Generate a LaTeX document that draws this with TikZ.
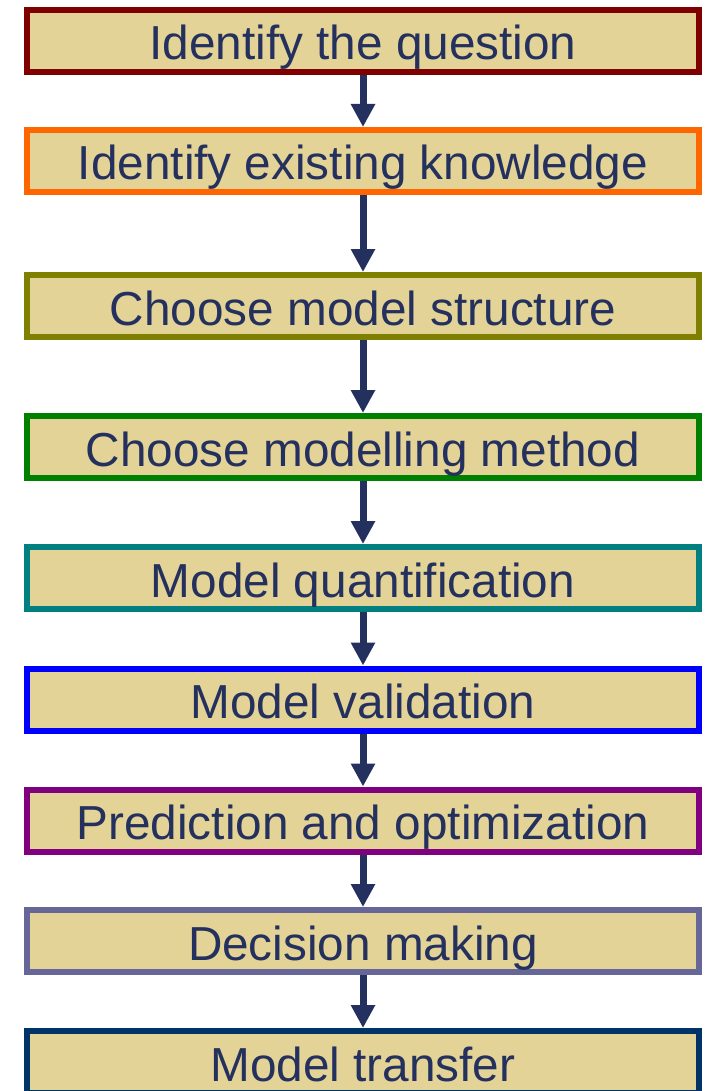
\documentclass[tikz,border=0pt]{standalone}
\usepackage{fontspec}
\setmainfont{Liberation Sans}
\usetikzlibrary{arrows.meta}
\definecolor{boxfill}{RGB}{227,211,150}
\definecolor{navy}{RGB}{36,48,94}
\definecolor{cA}{RGB}{128,0,0}
\definecolor{cB}{RGB}{255,102,0}
\definecolor{cC}{RGB}{128,128,0}
\definecolor{cD}{RGB}{0,128,0}
\definecolor{cE}{RGB}{0,128,128}
\definecolor{cF}{RGB}{0,0,255}
\definecolor{cG}{RGB}{128,0,128}
\definecolor{cH}{RGB}{102,102,153}
\definecolor{cI}{RGB}{0,51,102}
\begin{document}
\begin{tikzpicture}[x=1pt,y=-1pt,
  stepbox/.style={draw=#1, line width=6pt, fill=boxfill, minimum width=672pt,
    minimum height=62pt, inner sep=0pt, text=navy,
    font=\fontsize{47.7}{57}\selectfont, text height=38pt, text depth=0pt},
  flow/.style={draw=navy, line width=7pt,
    -{Triangle[length=23pt 0 0,width=23pt 0 0,fill=navy]}}]
\useasboundingbox (0,0) rectangle (705,1091);
\clip (0,0) rectangle (705,1091);
\node[stepbox=cA] (b1) at (363,41) {Identify the question};
\node[stepbox=cB] (b2) at (363,161) {Identify existing knowledge};
\node[stepbox=cC] (b3) at (363,306) {Choose model structure};
\node[stepbox=cD] (b4) at (363,447) {Choose modelling method};
\node[stepbox=cE] (b5) at (363,578) {Model quantification};
\node[stepbox=cF] (b6) at (363,699.5) {Model validation};
\node[stepbox=cG] (b7) at (363,820.5) {Prediction and optimization};
\node[stepbox=cH] (b8) at (363,941) {Decision making};
\node[stepbox=cI] (b9) at (363,1062) {Model transfer};
\draw[flow] (b1) -- (b2);
\draw[flow] (b2) -- (b3);
\draw[flow] (b3) -- (b4);
\draw[flow] (b4) -- (b5);
\draw[flow] (b5) -- (b6);
\draw[flow] (b6) -- (b7);
\draw[flow] (b7) -- (b8);
\draw[flow] (b8) -- (b9);
\end{tikzpicture}
\end{document}
